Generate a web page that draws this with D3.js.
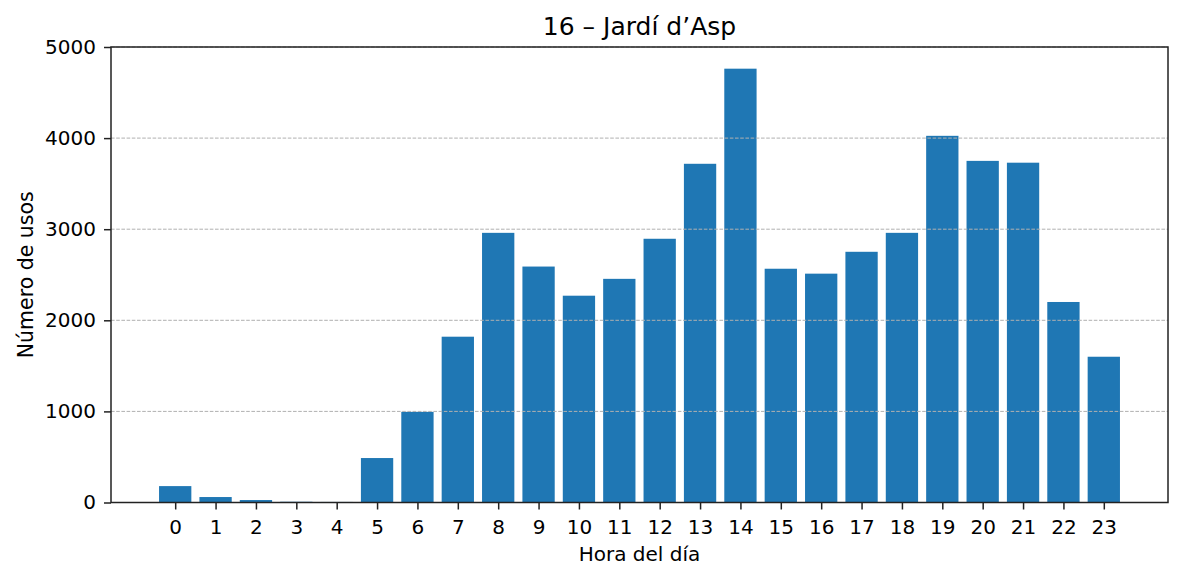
<!DOCTYPE html>
<head>
    <meta charset="utf-8">
    <title>16 – Jardí d’Asp</title>
    <style>
        body { margin: 0; background: #fff; }
        text { font-family: "DejaVu Sans", sans-serif; fill: #000; }
    </style>
</head>
<body>

<script src="https://cdnjs.cloudflare.com/ajax/libs/d3/7.8.5/d3.min.js"></script>

<script>

    const hours = d3.range(0, 24);
    const usos = [180, 60, 27, 8, 6, 488, 995, 1820, 2960, 2590, 2270, 2455,
                  2895, 3718, 4762, 2566, 2512, 2752, 2960, 4025, 3750, 3730, 2201, 1600];
    const yTicks = [0, 1000, 2000, 3000, 4000, 5000];

    const margin = {top: 47, right: 16, bottom: 78.5, left: 111};
    const width = 1184 - margin.left - margin.right;
    const height = 581 - margin.top - margin.bottom;

    const svg = d3.select('body').append('svg')
        .attr('width', 1184)
        .attr('height', 581)
        .append('g')
        .attr('transform', 'translate(' + margin.left + ',' + margin.top + ')');

    // matplotlib-like limits: bars from -0.4 to 23.4 plus 5% margin
    const x = d3.scaleLinear()
        .domain([-1.59, 24.59])
        .range([0, width]);

    const y = d3.scaleLinear()
        .domain([0, 5000])
        .range([height, 0]);

    const bw = x(0.8) - x(0);

    svg.selectAll('.bar')
        .data(hours)
        .enter().append('rect')
        .attr('class', 'bar')
        .attr('x', d => x(d - 0.4))
        .attr('width', bw)
        .attr('y', d => y(usos[d]))
        .attr('height', d => height - y(usos[d]))
        .style('fill', '#1f77b4');

    // grid over the bars
    svg.append('g')
        .selectAll('line')
        .data(yTicks)
        .enter().append('line')
        .attr('x1', 0)
        .attr('x2', width)
        .attr('y1', d => y(d))
        .attr('y2', d => y(d))
        .style('stroke', '#b0b0b0')
        .style('stroke-width', 1)
        .style('stroke-dasharray', '3.6,1.6');

    const xAxis = d3.axisBottom(x)
        .tickValues(hours)
        .tickFormat(d3.format('d'))
        .tickSize(7)
        .tickPadding(10);

    const yAxis = d3.axisLeft(y)
        .tickValues(yTicks)
        .tickFormat(d3.format('d'))
        .tickSize(7)
        .tickPadding(8);

    const gx = svg.append('g')
        .attr('transform', 'translate(0,' + height + ')')
        .call(xAxis);

    const gy = svg.append('g')
        .call(yAxis);

    [gx, gy].forEach(g => {
        g.select('.domain').remove();
        g.selectAll('.tick line').style('stroke', '#222').style('stroke-width', 1.5);
        g.selectAll('.tick text').style('font-size', '20px').style('fill', '#000');
    });

    // frame
    svg.append('rect')
        .attr('width', width)
        .attr('height', height)
        .style('fill', 'none')
        .style('stroke', '#222')
        .style('stroke-width', 1.5);

    svg.append('text')
        .attr('x', width / 2)
        .attr('y', 35 - margin.top)
        .style('text-anchor', 'middle')
        .style('font-size', '25px')
        .text('16 – Jardí d’Asp');

    svg.append('text')
        .attr('x', width / 2)
        .attr('y', 561 - margin.top)
        .style('text-anchor', 'middle')
        .style('font-size', '20px')
        .text('Hora del día');

    svg.append('text')
        .attr('transform', 'translate(' + (32.5 - margin.left) + ',' + (height / 2) + ') rotate(-90)')
        .style('text-anchor', 'middle')
        .style('font-size', '20.5px')
        .text('Número de usos');

</script>

</body>
